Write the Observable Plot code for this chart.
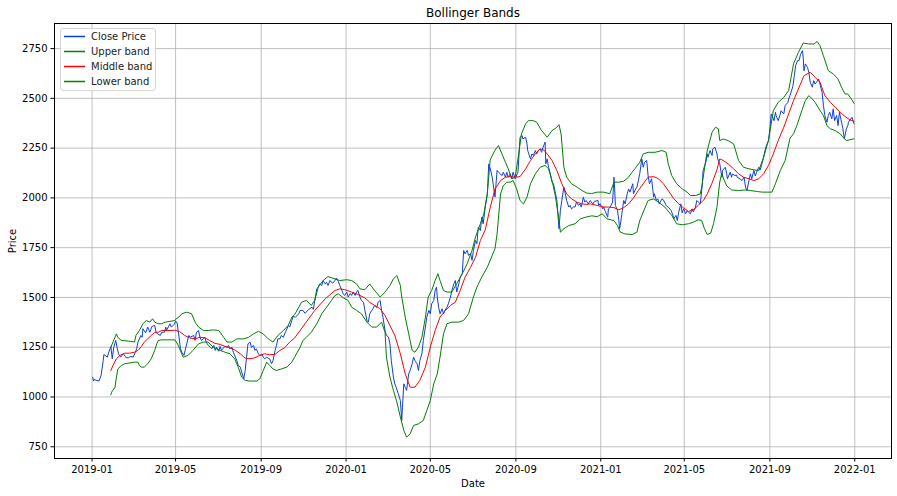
<!DOCTYPE html>
<html>
<head>
<meta charset="utf-8">
<script src="https://cdn.jsdelivr.net/npm/d3@7"></script>
<script src="https://cdn.jsdelivr.net/npm/@observablehq/plot@0.6"></script>
<style>
  body { margin: 0; background: #fff; }
  #wrap { position: relative; width: 897px; height: 496px; font-family: "DejaVu Sans", sans-serif; }
  #legend { position: absolute; left: 60px; top: 28px; width: 96px; height: 63px; box-sizing: border-box;
            border: 1px solid #d6d6d6; border-radius: 3px; background: rgba(255,255,255,0.85); font-size: 10px; color: #222; }
  #legend svg { position: absolute; left: 0; top: 0; }
  .lb { position: absolute; left: 30px; line-height: 14px; white-space: nowrap; }
</style>
</head>
<body>
<div id="wrap"><div id="chart"></div><div id="legend"></div></div>
<script>
const title = "Bollinger Bands";
const xLabel = "Date";
const yLabel = "Price";
const seriesNames = ["Close Price", "Upper band", "Middle band", "Lower band"];
const seriesColors = ["#0f3fdc", "green", "red", "green"];
const xTickDates = ["2019-01-01","2019-05-01","2019-09-01","2020-01-01","2020-05-01","2020-09-01","2021-01-01","2021-05-01","2021-09-01","2022-01-01"];
const yTicks = [750, 1000, 1250, 1500, 1750, 2000, 2250, 2500, 2750];

const closePrice = [
["2019-01-02",1099],["2019-01-03",1080],["2019-01-04",1088],["2019-01-08",1083],["2019-01-11",1080],["2019-01-14",1109],
["2019-01-17",1183],["2019-01-18",1213],["2019-01-23",1200],["2019-01-25",1225],["2019-01-28",1253],["2019-01-30",1192],
["2019-02-01",1247],["2019-02-04",1284],["2019-02-06",1247],["2019-02-08",1217],["2019-02-11",1200],["2019-02-15",1217],
["2019-02-19",1197],["2019-02-22",1197],["2019-02-26",1204],["2019-03-01",1200],["2019-03-04",1223],["2019-03-06",1242],
["2019-03-08",1276],["2019-03-12",1309],["2019-03-14",1300],["2019-03-15",1343],["2019-03-19",1322],["2019-03-22",1351],
["2019-03-25",1325],["2019-03-28",1354],["2019-04-01",1359],["2019-04-03",1325],["2019-04-05",1317],["2019-04-09",1309],
["2019-04-11",1325],["2019-04-15",1325],["2019-04-17",1351],["2019-04-18",1334],["2019-04-23",1368],["2019-04-25",1351],
["2019-04-29",1365],["2019-05-01",1380],["2019-05-03",1376],["2019-05-06",1300],["2019-05-08",1243],["2019-05-10",1225],
["2019-05-13",1209],["2019-05-17",1267],["2019-05-20",1309],["2019-05-22",1300],["2019-05-27",1309],["2019-05-29",1284],
["2019-05-31",1325],["2019-06-03",1334],["2019-06-05",1300],["2019-06-07",1284],["2019-06-10",1292],["2019-06-12",1300],
["2019-06-14",1276],["2019-06-17",1259],["2019-06-20",1250],["2019-06-22",1242],["2019-06-25",1259],["2019-06-27",1234],
["2019-06-29",1250],["2019-07-02",1230],["2019-07-04",1254],["2019-07-06",1234],["2019-07-09",1247],["2019-07-11",1254],
["2019-07-14",1250],["2019-07-16",1259],["2019-07-18",1242],["2019-07-21",1250],["2019-07-23",1225],["2019-07-26",1200],
["2019-07-28",1183],["2019-07-30",1159],["2019-08-02",1150],["2019-08-04",1125],["2019-08-07",1091],["2019-08-09",1133],
["2019-08-11",1200],["2019-08-13",1267],["2019-08-16",1276],["2019-08-18",1250],["2019-08-21",1259],["2019-08-23",1234],
["2019-08-25",1242],["2019-08-28",1217],["2019-08-30",1209],["2019-09-02",1213],["2019-09-04",1200],["2019-09-06",1192],
["2019-09-09",1200],["2019-09-11",1195],["2019-09-13",1192],["2019-09-16",1167],["2019-09-18",1183],["2019-09-21",1234],
["2019-09-23",1259],["2019-09-25",1292],["2019-09-28",1292],["2019-09-30",1309],["2019-10-03",1300],["2019-10-05",1320],
["2019-10-07",1334],["2019-10-10",1359],["2019-10-12",1351],["2019-10-15",1384],["2019-10-17",1405],["2019-10-20",1400],
["2019-10-25",1418],["2019-10-27",1435],["2019-10-31",1435],["2019-11-03",1420],["2019-11-08",1439],["2019-11-13",1451],
["2019-11-15",1440],["2019-11-17",1485],["2019-11-20",1543],["2019-11-22",1552],["2019-11-24",1568],["2019-11-27",1560],
["2019-11-29",1585],["2019-12-02",1568],["2019-12-04",1576],["2019-12-06",1560],["2019-12-09",1585],["2019-12-11",1576],
["2019-12-13",1572],["2019-12-16",1585],["2019-12-18",1597],["2019-12-21",1580],["2019-12-23",1560],["2019-12-26",1535],
["2019-12-28",1518],["2019-12-30",1510],["2020-01-02",1527],["2020-01-04",1502],["2020-01-07",1520],["2020-01-09",1510],
["2020-01-11",1527],["2020-01-14",1510],["2020-01-16",1527],["2020-01-18",1535],["2020-01-21",1502],["2020-01-23",1485],
["2020-01-26",1476],["2020-01-28",1435],["2020-01-31",1385],["2020-02-02",1376],["2020-02-04",1418],["2020-02-07",1435],
["2020-02-09",1445],["2020-02-11",1460],["2020-02-14",1450],["2020-02-16",1476],["2020-02-19",1485],["2020-02-21",1435],
["2020-02-23",1401],["2020-02-26",1334],["2020-02-28",1309],["2020-03-02",1301],["2020-03-04",1267],["2020-03-06",1183],
["2020-03-09",1100],["2020-03-11",1066],["2020-03-13",1049],["2020-03-16",1016],["2020-03-19",982],["2020-03-21",882],
["2020-03-22",949],["2020-03-24",1066],["2020-03-26",1049],["2020-03-28",1033],["2020-03-31",1116],["2020-04-02",1133],
["2020-04-05",1167],["2020-04-07",1200],["2020-04-09",1183],["2020-04-12",1167],["2020-04-14",1133],["2020-04-16",1183],
["2020-04-19",1217],["2020-04-21",1284],["2020-04-24",1351],["2020-04-26",1401],["2020-04-29",1435],["2020-05-01",1418],
["2020-05-03",1468],["2020-05-06",1485],["2020-05-08",1535],["2020-05-10",1552],["2020-05-11",1502],["2020-05-13",1451],
["2020-05-15",1418],["2020-05-18",1443],["2020-05-20",1418],["2020-05-22",1435],["2020-05-25",1451],["2020-05-27",1468],
["2020-05-30",1502],["2020-06-01",1535],["2020-06-04",1569],["2020-06-06",1585],["2020-06-08",1527],["2020-06-11",1569],
["2020-06-13",1602],["2020-06-16",1619],["2020-06-18",1736],["2020-06-20",1719],["2020-06-23",1736],["2020-06-25",1711],
["2020-06-28",1720],["2020-06-30",1686],["2020-07-02",1736],["2020-07-05",1786],["2020-07-07",1770],["2020-07-09",1853],
["2020-07-12",1836],["2020-07-14",1903],["2020-07-16",1870],["2020-07-19",1955],["2020-07-22",2020],["2020-07-24",2170],
["2020-07-26",2150],["2020-07-29",2104],["2020-07-31",2054],["2020-08-02",2004],["2020-08-05",2138],["2020-08-07",2129],
["2020-08-10",2120],["2020-08-12",2112],["2020-08-14",2129],["2020-08-17",2104],["2020-08-19",2129],["2020-08-21",2104],
["2020-08-24",2121],["2020-08-26",2096],["2020-08-28",2129],["2020-08-31",2096],["2020-09-03",2121],["2020-09-04",2129],
["2020-09-07",2305],["2020-09-10",2313],["2020-09-11",2296],["2020-09-15",2305],["2020-09-17",2271],["2020-09-18",2238],
["2020-09-22",2196],["2020-09-24",2221],["2020-09-26",2213],["2020-09-29",2238],["2020-10-01",2221],["2020-10-03",2238],
["2020-10-06",2246],["2020-10-08",2229],["2020-10-10",2254],["2020-10-13",2280],["2020-10-14",2171],["2020-10-16",2196],
["2020-10-18",2154],["2020-10-20",2129],["2020-10-23",2079],["2020-10-25",2071],["2020-10-28",2021],["2020-10-30",1987],
["2020-10-31",1937],["2020-11-02",1845],["2020-11-04",1937],["2020-11-06",1987],["2020-11-09",2054],["2020-11-11",2021],
["2020-11-13",1987],["2020-11-16",1954],["2020-11-18",1962],["2020-11-20",1945],["2020-11-23",1955],["2020-11-25",1954],
["2020-11-27",1979],["2020-11-30",1962],["2020-12-02",1970],["2020-12-04",1954],["2020-12-07",2004],["2020-12-09",1979],
["2020-12-11",1987],["2020-12-14",1970],["2020-12-17",1987],["2020-12-18",1980],["2020-12-21",1970],["2020-12-23",1983],
["2020-12-28",1987],["2020-12-29",1962],["2020-12-31",1970],["2021-01-04",1945],["2021-01-05",1955],["2021-01-07",1937],
["2021-01-11",1903],["2021-01-12",1945],["2021-01-14",1950],["2021-01-18",1979],["2021-01-20",2104],["2021-01-21",2045],
["2021-01-22",1962],["2021-01-25",1937],["2021-01-27",1886],["2021-01-28",1845],["2021-01-29",1861],["2021-02-01",1937],
["2021-02-03",1987],["2021-02-05",1970],["2021-02-08",2021],["2021-02-10",2045],["2021-02-12",2029],["2021-02-16",2071],
["2021-02-17",2021],["2021-02-19",2037],["2021-02-22",2054],["2021-02-24",2087],["2021-02-26",2121],["2021-03-01",2196],
["2021-03-03",2154],["2021-03-05",2179],["2021-03-08",2188],["2021-03-10",2112],["2021-03-12",2071],["2021-03-15",2096],
["2021-03-17",2037],["2021-03-18",2004],["2021-03-19",2021],["2021-03-22",1987],["2021-03-24",1995],["2021-03-26",1970],
["2021-03-30",1995],["2021-04-01",1990],["2021-04-05",1962],["2021-04-06",1958],["2021-04-08",1954],["2021-04-12",1937],
["2021-04-14",1920],["2021-04-16",1895],["2021-04-19",1912],["2021-04-21",1886],["2021-04-23",1928],["2021-04-26",1970],
["2021-04-28",1925],["2021-04-30",1945],["2021-05-03",1920],["2021-05-05",1935],["2021-05-07",1928],["2021-05-10",1920],
["2021-05-12",1945],["2021-05-14",1930],["2021-05-17",1953],["2021-05-19",1987],["2021-05-21",1980],["2021-05-24",1970],
["2021-05-25",2004],["2021-05-27",2070],["2021-05-28",2137],["2021-06-01",2180],["2021-06-03",2221],["2021-06-04",2204],
["2021-06-07",2238],["2021-06-10",2213],["2021-06-11",2246],["2021-06-14",2255],["2021-06-17",2221],["2021-06-18",2196],
["2021-06-21",2171],["2021-06-24",2104],["2021-06-25",2138],["2021-06-29",2154],["2021-07-01",2121],["2021-07-02",2096],
["2021-07-06",2129],["2021-07-08",2104],["2021-07-09",2120],["2021-07-13",2112],["2021-07-15",2115],["2021-07-16",2104],
["2021-07-20",2096],["2021-07-23",2087],["2021-07-26",2104],["2021-07-28",2054],["2021-07-30",2037],["2021-08-02",2087],
["2021-08-04",2121],["2021-08-06",2096],["2021-08-09",2138],["2021-08-11",2110],["2021-08-13",2129],["2021-08-16",2154],
["2021-08-18",2140],["2021-08-20",2163],["2021-08-23",2204],["2021-08-25",2238],["2021-08-27",2263],["2021-08-30",2288],
["2021-09-01",2347],["2021-09-03",2422],["2021-09-07",2388],["2021-09-09",2430],["2021-09-10",2413],["2021-09-13",2388],
["2021-09-16",2422],["2021-09-17",2438],["2021-09-21",2422],["2021-09-23",2464],["2021-09-27",2480],["2021-09-28",2497],
["2021-09-30",2514],["2021-10-04",2560],["2021-10-06",2610],["2021-10-08",2665],["2021-10-11",2690],["2021-10-13",2690],
["2021-10-15",2720],["2021-10-18",2740],["2021-10-19",2700],["2021-10-20",2639],["2021-10-22",2673],["2021-10-25",2656],
["2021-10-27",2631],["2021-10-29",2581],["2021-11-01",2556],["2021-11-03",2589],["2021-11-05",2572],["2021-11-08",2585],
["2021-11-10",2598],["2021-11-12",2572],["2021-11-15",2531],["2021-11-17",2464],["2021-11-19",2414],["2021-11-22",2380],
["2021-11-24",2414],["2021-11-26",2430],["2021-11-29",2397],["2021-12-01",2447],["2021-12-03",2388],["2021-12-06",2414],
["2021-12-08",2363],["2021-12-10",2430],["2021-12-13",2380],["2021-12-15",2347],["2021-12-17",2297],["2021-12-20",2347],
["2021-12-22",2363],["2021-12-23",2380],["2021-12-28",2405],["2021-12-31",2372]
];

const upperBand = [
["2019-01-28",1250],["2019-01-31",1276],["2019-02-05",1317],["2019-02-07",1300],["2019-02-12",1284],["2019-02-22",1281],
["2019-03-03",1276],["2019-03-05",1309],["2019-03-10",1334],["2019-03-15",1368],["2019-03-20",1384],["2019-03-25",1376],
["2019-03-29",1393],["2019-04-01",1376],["2019-04-06",1368],["2019-04-11",1368],["2019-04-16",1376],["2019-04-23",1380],
["2019-04-30",1384],["2019-05-02",1393],["2019-05-07",1405],["2019-05-10",1418],["2019-05-17",1426],["2019-05-24",1418],
["2019-05-29",1376],["2019-06-03",1351],["2019-06-10",1334],["2019-06-17",1334],["2019-06-24",1337],["2019-07-02",1334],
["2019-07-09",1300],["2019-07-14",1276],["2019-07-21",1276],["2019-07-28",1292],["2019-08-07",1292],["2019-08-14",1300],
["2019-08-21",1317],["2019-08-28",1330],["2019-09-04",1317],["2019-09-11",1292],["2019-09-18",1276],["2019-09-25",1309],
["2019-10-03",1334],["2019-10-10",1360],["2019-10-15",1401],["2019-10-19",1413],["2019-10-29",1476],["2019-11-05",1485],
["2019-11-12",1460],["2019-11-17",1485],["2019-11-22",1552],["2019-11-29",1585],["2019-12-06",1605],["2019-12-16",1593],
["2019-12-23",1585],["2020-01-02",1589],["2020-01-09",1585],["2020-01-16",1568],["2020-01-21",1543],["2020-01-28",1539],
["2020-02-04",1568],["2020-02-11",1535],["2020-02-19",1502],["2020-02-26",1527],["2020-03-04",1560],["2020-03-09",1593],
["2020-03-14",1610],["2020-03-19",1560],["2020-03-21",1502],["2020-03-26",1401],["2020-03-31",1317],["2020-04-05",1234],
["2020-04-09",1225],["2020-04-14",1250],["2020-04-19",1300],["2020-04-24",1401],["2020-04-28",1502],["2020-05-03",1535],
["2020-05-08",1585],["2020-05-12",1619],["2020-05-15",1585],["2020-05-20",1535],["2020-05-25",1527],["2020-06-01",1527],
["2020-06-08",1569],["2020-06-16",1619],["2020-06-23",1669],["2020-06-30",1736],["2020-07-05",1803],["2020-07-12",1870],
["2020-07-17",1920],["2020-07-22",2020],["2020-07-26",2190],["2020-08-02",2240],["2020-08-07",2263],["2020-08-12",2221],
["2020-08-17",2179],["2020-08-21",2146],["2020-08-26",2096],["2020-08-31",2104],["2020-09-04",2196],["2020-09-09",2321],
["2020-09-15",2372],["2020-09-19",2388],["2020-09-26",2388],["2020-10-01",2380],["2020-10-08",2338],["2020-10-16",2305],
["2020-10-23",2338],["2020-10-30",2355],["2020-11-02",2368],["2020-11-05",2321],["2020-11-09",2154],["2020-11-13",2104],
["2020-11-20",2071],["2020-11-28",2054],["2020-12-05",2037],["2020-12-12",2024],["2020-12-19",2022],["2020-12-27",2029],
["2021-01-05",2029],["2021-01-14",2021],["2021-01-20",2079],["2021-01-27",2079],["2021-02-03",2084],["2021-02-10",2104],
["2021-02-15",2129],["2021-02-19",2146],["2021-02-26",2179],["2021-03-03",2221],["2021-03-10",2229],["2021-03-20",2229],
["2021-03-30",2238],["2021-04-05",2229],["2021-04-08",2171],["2021-04-13",2112],["2021-04-20",2071],["2021-04-28",2045],
["2021-05-05",2029],["2021-05-10",2012],["2021-05-17",2012],["2021-05-24",2020],["2021-05-26",2054],["2021-06-03",2238],
["2021-06-10",2330],["2021-06-15",2355],["2021-06-19",2347],["2021-06-21",2288],["2021-06-26",2296],["2021-07-03",2288],
["2021-07-11",2271],["2021-07-18",2188],["2021-07-25",2154],["2021-08-02",2146],["2021-08-09",2141],["2021-08-16",2137],
["2021-08-23",2204],["2021-08-30",2288],["2021-09-06",2439],["2021-09-13",2480],["2021-09-21",2505],["2021-09-28",2539],
["2021-10-05",2673],["2021-10-12",2731],["2021-10-19",2778],["2021-10-27",2773],["2021-11-03",2773],["2021-11-08",2785],
["2021-11-12",2765],["2021-11-17",2714],["2021-11-24",2639],["2021-12-01",2623],["2021-12-08",2597],["2021-12-13",2556],
["2021-12-18",2522],["2021-12-22",2522],["2021-12-27",2497],["2021-12-31",2475]
];

const middleBand = [
["2019-01-28",1133],["2019-01-31",1158],["2019-02-05",1192],["2019-02-10",1209],["2019-02-17",1220],["2019-02-24",1220],
["2019-03-03",1225],["2019-03-08",1234],["2019-03-13",1254],["2019-03-17",1276],["2019-03-22",1292],["2019-03-27",1309],
["2019-04-01",1325],["2019-04-06",1325],["2019-04-11",1334],["2019-04-20",1334],["2019-04-30",1335],["2019-05-07",1328],
["2019-05-14",1309],["2019-05-21",1297],["2019-05-29",1292],["2019-06-05",1300],["2019-06-12",1297],["2019-06-19",1284],
["2019-06-26",1270],["2019-07-04",1264],["2019-07-11",1254],["2019-07-18",1247],["2019-07-25",1237],["2019-08-02",1217],
["2019-08-09",1195],["2019-08-16",1192],["2019-08-23",1197],["2019-08-30",1209],["2019-09-06",1217],["2019-09-13",1212],
["2019-09-21",1214],["2019-09-28",1234],["2019-10-05",1248],["2019-10-12",1276],["2019-10-19",1296],["2019-11-03",1368],
["2019-11-17",1435],["2019-12-02",1493],["2019-12-16",1535],["2019-12-23",1543],["2019-12-30",1539],["2020-01-09",1527],
["2020-01-18",1515],["2020-01-28",1498],["2020-02-04",1476],["2020-02-11",1460],["2020-02-19",1443],["2020-02-26",1409],
["2020-03-04",1359],["2020-03-11",1310],["2020-03-19",1217],["2020-03-26",1116],["2020-04-02",1049],["2020-04-09",1049],
["2020-04-16",1083],["2020-04-24",1150],["2020-05-01",1250],["2020-05-08",1334],["2020-05-15",1401],["2020-05-23",1435],
["2020-05-30",1460],["2020-06-06",1476],["2020-06-13",1535],["2020-06-20",1602],["2020-06-28",1652],["2020-07-05",1702],
["2020-07-12",1786],["2020-07-19",1840],["2020-07-26",1950],["2020-08-02",2045],["2020-08-10",2087],["2020-08-17",2104],
["2020-08-24",2107],["2020-08-31",2104],["2020-09-07",2107],["2020-09-15",2146],["2020-09-22",2188],["2020-09-29",2221],
["2020-10-06",2246],["2020-10-11",2241],["2020-10-16",2221],["2020-10-23",2188],["2020-10-30",2137],["2020-11-06",2071],
["2020-11-13",2020],["2020-11-20",1995],["2020-11-28",1978],["2020-12-05",1970],["2020-12-12",1967],["2020-12-17",1970],
["2020-12-27",1962],["2021-01-05",1954],["2021-01-12",1954],["2021-01-20",1951],["2021-01-27",1940],["2021-02-03",1951],
["2021-02-10",1970],["2021-02-17",2000],["2021-02-24",2037],["2021-03-03",2071],["2021-03-10",2104],["2021-03-18",2107],
["2021-03-25",2096],["2021-04-01",2071],["2021-04-08",2037],["2021-04-15",2000],["2021-04-23",1970],["2021-04-30",1950],
["2021-05-07",1932],["2021-05-14",1940],["2021-05-21",1962],["2021-05-29",1990],["2021-06-03",2020],["2021-06-10",2075],
["2021-06-17",2142],["2021-06-21",2196],["2021-06-26",2188],["2021-07-03",2171],["2021-07-11",2146],["2021-07-18",2121],
["2021-07-25",2104],["2021-08-02",2096],["2021-08-09",2087],["2021-08-16",2096],["2021-08-23",2121],["2021-08-30",2163],
["2021-09-06",2221],["2021-09-13",2288],["2021-09-21",2355],["2021-09-28",2422],["2021-10-05",2489],["2021-10-12",2547],
["2021-10-20",2614],["2021-10-29",2631],["2021-11-05",2606],["2021-11-12",2581],["2021-11-19",2514],["2021-11-27",2480],
["2021-12-04",2455],["2021-12-11",2430],["2021-12-18",2409],["2021-12-25",2392],["2021-12-31",2385]
];

const lowerBand = [
["2019-01-28",1011],["2019-01-29",1024],["2019-02-03",1049],["2019-02-05",1099],["2019-02-07",1141],["2019-02-12",1158],
["2019-02-17",1167],["2019-03-03",1175],["2019-03-08",1175],["2019-03-10",1158],["2019-03-13",1150],["2019-03-17",1150],
["2019-03-22",1167],["2019-03-27",1192],["2019-04-01",1234],["2019-04-04",1267],["2019-04-06",1284],["2019-04-11",1287],
["2019-04-20",1287],["2019-04-30",1287],["2019-05-04",1265],["2019-05-07",1240],["2019-05-12",1200],["2019-05-19",1209],
["2019-05-26",1234],["2019-06-03",1267],["2019-06-10",1276],["2019-06-17",1276],["2019-06-24",1250],["2019-07-04",1234],
["2019-07-11",1225],["2019-07-18",1217],["2019-07-25",1192],["2019-07-30",1150],["2019-08-04",1099],["2019-08-09",1083],
["2019-08-16",1080],["2019-08-26",1080],["2019-08-30",1091],["2019-09-04",1133],["2019-09-09",1175],["2019-09-13",1159],
["2019-09-18",1141],["2019-09-23",1133],["2019-09-30",1141],["2019-10-08",1150],["2019-10-15",1175],["2019-10-19",1200],
["2019-10-27",1250],["2019-10-31",1284],["2019-11-05",1300],["2019-11-12",1325],["2019-11-20",1368],["2019-11-27",1418],
["2019-12-04",1451],["2019-12-11",1485],["2019-12-16",1510],["2019-12-21",1518],["2019-12-28",1498],["2020-01-04",1485],
["2020-01-09",1451],["2020-01-16",1435],["2020-01-23",1418],["2020-01-31",1376],["2020-02-07",1351],["2020-02-14",1351],
["2020-02-21",1376],["2020-02-26",1325],["2020-02-28",1200],["2020-03-04",1100],["2020-03-09",1033],["2020-03-14",975],
["2020-03-19",899],["2020-03-24",832],["2020-03-28",798],["2020-04-02",815],["2020-04-07",857],["2020-04-14",865],
["2020-04-21",882],["2020-04-26",932],["2020-05-01",982],["2020-05-06",1066],["2020-05-11",1116],["2020-05-15",1200],
["2020-05-20",1317],["2020-05-25",1368],["2020-06-01",1376],["2020-06-11",1376],["2020-06-18",1385],["2020-06-25",1418],
["2020-07-02",1502],["2020-07-07",1552],["2020-07-14",1602],["2020-07-22",1652],["2020-07-29",1711],["2020-08-02",1745],
["2020-08-05",1819],["2020-08-10",2020],["2020-08-14",2062],["2020-08-19",2079],["2020-08-24",2079],["2020-08-28",2087],
["2020-09-02",2046],["2020-09-07",1987],["2020-09-12",1970],["2020-09-17",2004],["2020-09-22",2071],["2020-09-29",2121],
["2020-10-06",2154],["2020-10-13",2163],["2020-10-18",2146],["2020-10-23",2087],["2020-10-28",2004],["2020-11-02",1887],
["2020-11-04",1828],["2020-11-09",1845],["2020-11-16",1861],["2020-11-25",1870],["2020-12-03",1895],["2020-12-10",1903],
["2020-12-19",1910],["2020-12-27",1906],["2021-01-03",1920],["2021-01-10",1895],["2021-01-20",1886],["2021-01-25",1861],
["2021-01-29",1828],["2021-02-05",1819],["2021-02-15",1816],["2021-02-22",1828],["2021-02-26",1886],["2021-03-06",1954],
["2021-03-10",1987],["2021-03-18",1995],["2021-03-25",1979],["2021-04-03",1954],["2021-04-13",1912],["2021-04-20",1870],
["2021-04-28",1865],["2021-05-07",1870],["2021-05-14",1878],["2021-05-21",1890],["2021-05-26",1887],["2021-05-30",1845],
["2021-06-03",1816],["2021-06-08",1823],["2021-06-12",1870],["2021-06-17",1953],["2021-06-19",2020],["2021-06-21",2080],
["2021-06-24",2125],["2021-06-26",2100],["2021-07-01",2060],["2021-07-08",2040],["2021-07-18",2037],["2021-07-28",2040],
["2021-08-04",2037],["2021-08-14",2032],["2021-08-21",2029],["2021-08-28",2029],["2021-09-04",2029],["2021-09-09",2071],
["2021-09-16",2138],["2021-09-23",2188],["2021-09-30",2300],["2021-10-05",2322],["2021-10-10",2365],["2021-10-17",2439],
["2021-10-22",2489],["2021-10-27",2514],["2021-11-01",2497],["2021-11-05",2480],["2021-11-12",2439],["2021-11-17",2414],
["2021-11-22",2363],["2021-11-27",2347],["2021-12-04",2338],["2021-12-11",2322],["2021-12-15",2305],["2021-12-20",2288],
["2021-12-25",2292],["2021-12-31",2297]
];

const parse = d3.utcParse("%Y-%m-%d");
const toRows = (arr) => arr.map(([d, v]) => ({date: parse(d), value: v}));
const series = [closePrice, upperBand, middleBand, lowerBand].map(toRows);
const xTicks = xTickDates.map(parse);

const gridStyle = {stroke: "#b0b0b0", strokeOpacity: 1, strokeWidth: 0.8};

const chart = Plot.plot({
  width: 897,
  height: 496,
  marginLeft: 54,
  marginRight: 6,
  marginTop: 23,
  marginBottom: 38,
  style: {fontFamily: "DejaVu Sans, sans-serif", fontSize: "10px", color: "#000", background: "#fff", overflow: "visible"},
  x: {type: "utc", domain: [new Date(Date.UTC(2018, 10, 8)), new Date(Date.UTC(2022, 1, 22, 19))]},
  y: {domain: [691, 2876]},
  marks: [
    Plot.gridX(xTicks, gridStyle),
    Plot.gridY(yTicks, gridStyle),
    ...series.map((rows, i) => Plot.line(rows, {x: "date", y: "value", stroke: seriesColors[i], strokeWidth: 1})),
    Plot.frame({stroke: "#000", strokeWidth: 1}),
    Plot.axisX(xTicks, {tickFormat: d3.utcFormat("%Y-%m"), tickSize: 3.5, tickPadding: 3.5, label: null, fontSize: 10}),
    Plot.axisY(yTicks, {tickFormat: (d) => String(d), tickSize: 3.5, tickPadding: 3.5, label: null, fontSize: 10}),
    Plot.text([title], {text: (d) => d, frameAnchor: "top", dy: -10, lineAnchor: "middle", textAnchor: "middle", fontSize: 12}),
    Plot.text([xLabel], {text: (d) => d, frameAnchor: "bottom", dy: 25, lineAnchor: "middle", textAnchor: "middle", fontSize: 10}),
    Plot.text([yLabel], {text: (d) => d, frameAnchor: "left", dx: -42, rotate: -90, lineAnchor: "middle", textAnchor: "middle", fontSize: 10})
  ]
});
document.getElementById("chart").appendChild(chart);

// Legend: swatch lines drawn in a small inline SVG, labels as HTML text
const legend = document.getElementById("legend");
const NS = "http://www.w3.org/2000/svg";
const lsvg = document.createElementNS(NS, "svg");
lsvg.setAttribute("width", "94");
lsvg.setAttribute("height", "61");
seriesNames.forEach((name, i) => {
  const yc = 7.5 + i * 15;
  const ln = document.createElementNS(NS, "line");
  ln.setAttribute("x1", "3"); ln.setAttribute("x2", "24");
  ln.setAttribute("y1", String(yc)); ln.setAttribute("y2", String(yc));
  ln.setAttribute("stroke", seriesColors[i]);
  ln.setAttribute("stroke-width", "1.5");
  lsvg.appendChild(ln);
  const lb = document.createElement("div");
  lb.className = "lb";
  lb.style.top = (yc - 7) + "px";
  lb.textContent = name;
  legend.appendChild(lb);
});
legend.appendChild(lsvg);
</script>
</body>
</html>
